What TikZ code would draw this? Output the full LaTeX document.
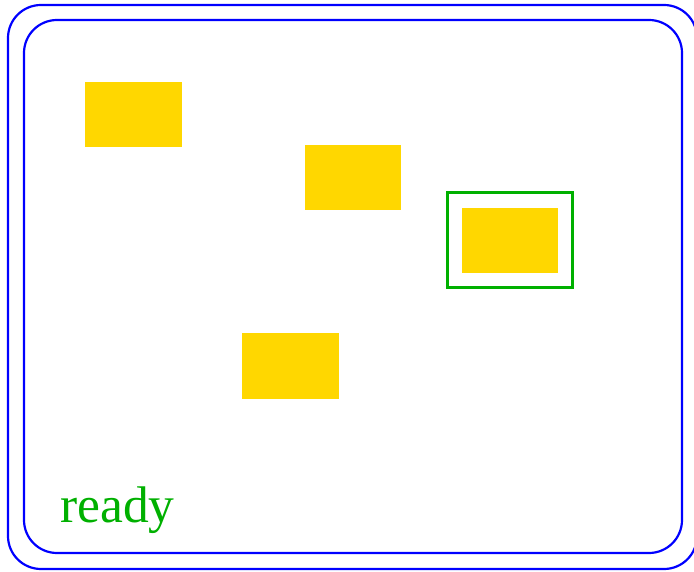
\documentclass[tikz,border=0pt]{standalone}
\usepackage{fontspec}
\setmainfont{Liberation Serif}
\definecolor{boxgold}{RGB}{255,215,0}
\definecolor{selgreen}{RGB}{0,176,0}
\begin{document}
\begin{tikzpicture}[
    x=1pt, y=-1pt,
    frame/.style={draw=blue, line width=2.2pt, rounded corners=33pt},
    item/.style={fill=boxgold, draw=none, minimum width=96.5pt, minimum height=65pt, inner sep=0pt},
    sel/.style={draw=selgreen, line width=2.2pt, minimum width=125pt, minimum height=95pt, inner sep=0pt},
    status/.style={text=selgreen, font=\fontsize{51.5}{60}\selectfont, inner sep=0pt, anchor=base west},
]
\useasboundingbox (0,0) rectangle (694,572);

% window frames
\draw[frame] (8,5) rectangle (697,569);
\draw[frame] (24,20) rectangle (682,553);

\node[item] (itemA) at (133.5,114.7) {};
\node[item] (itemB) at (353.2,177.6) {};
\node[sel]  (selC)  at (510,240) {};
\node[item] (itemC) at (510,240.5) {};
\node[item] (itemD) at (290.6,366) {};

\node[status] (state) at (60,522) {ready};
\end{tikzpicture}
\end{document}
